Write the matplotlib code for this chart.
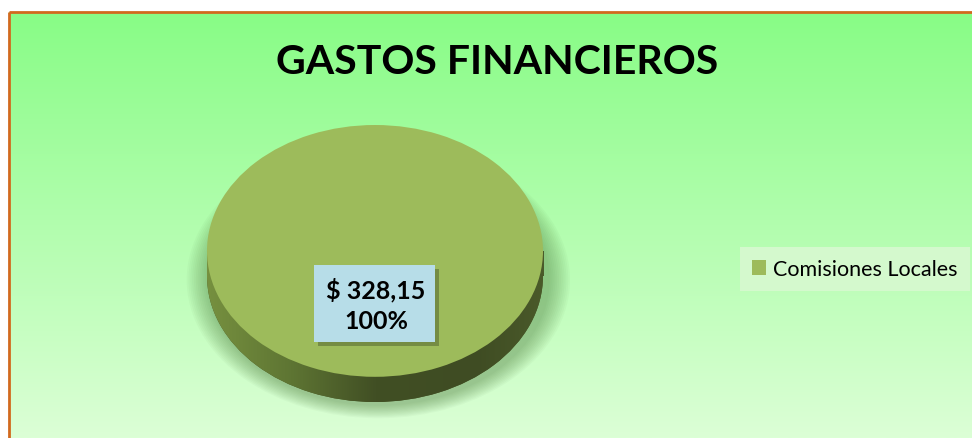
import numpy as np
import matplotlib
matplotlib.use('Agg')
import matplotlib.pyplot as plt
from matplotlib.patches import Rectangle, Ellipse
from matplotlib.colors import LinearSegmentedColormap

plt.rcParams['font.family'] = ['Lato', 'DejaVu Sans']

title = 'GASTOS FINANCIEROS'
categories = ['Comisiones Locales']
values = [328.15]

W, H = 972, 439
fig = plt.figure(figsize=(W / 100, H / 100), dpi=100)
fig.patch.set_facecolor('white')

# background panel with vertical gradient, pixel coords
bg = fig.add_axes([0, 0, 1, 1])
bg.set_xlim(0, W)
bg.set_ylim(H, 0)
bg.axis('off')
top_c = np.array([0x88, 0xFC, 0x86]) / 255
bot_c = np.array([0xDC, 0xFF, 0xD6]) / 255
t = np.linspace(0, 1, 256)[:, None]
grad = (top_c * (1 - t) + bot_c * t)[:, None, :]
bg.imshow(grad, extent=(9, W, H, 13), aspect='auto', zorder=0)
bg.plot([9, 9], [H, 13], color='#D2691E', lw=2, zorder=2, solid_capstyle='butt')
bg.plot([9, W], [13, 13], color='#D2691E', lw=2, zorder=2, solid_capstyle='butt')
bg.text(497, 63, title, ha='center', va='center', fontsize=29.5, fontweight='bold', color='black')

# pie axes: top face ellipse + side of depth d
d = 0.2
ax = fig.add_axes([207 / W, (H - 403) / H, 336 / W, 277 / H])
ax.set_facecolor('none')

# soft shadow under the pie
for k in range(12):
    ax.add_patch(Ellipse((0.02, -d - 0.03), 2.04 + k * 0.022, 2.0 + k * 0.018,
                         color='#3d6a2a', alpha=0.035, lw=0, zorder=0, clip_on=False))

bottom, _ = ax.pie(values, colors=['#4a5a28'], center=(0, -d), startangle=90,
                   counterclock=False, wedgeprops=dict(lw=0))
for w in bottom:
    w.set_zorder(1)
side_rect = Rectangle((-1, -d), 2, d, color='#4a5a28', lw=0, zorder=1)
ax.add_patch(side_rect)

side_cmap = LinearSegmentedColormap.from_list(
    'side', [(0, '#76903f'), (0.25, '#5e7533'), (0.5, '#414f24'), (0.8, '#3f4c23'), (1, '#4a5a2a')])
xs = np.linspace(0, 1, 256)[None, :]
for clip in [bottom[0], side_rect]:
    im = ax.imshow(xs, cmap=side_cmap, extent=(-1, 1, -1 - d, 0), aspect='auto', zorder=2)
    im.set_clip_path(clip)

wedges, _ = ax.pie(values, colors=['#9dbb5b'], startangle=90, counterclock=False,
                   wedgeprops=dict(lw=0))
for w in wedges:
    w.set_zorder(3)

ax.set_xlim(-1, 1)
ax.set_ylim(-1 - d, 1)
ax.set_aspect('auto')
ax.axis('off')

leg = ax.legend(wedges, categories, loc='center left', bbox_to_anchor=(740 / W, 1 - 270 / H),
                bbox_transform=fig.transFigure, fontsize=15.5, frameon=True, fancybox=False,
                handlelength=0.65, handleheight=0.65, handletextpad=0.35, borderpad=0.55,
                borderaxespad=0)
leg.get_frame().set_facecolor('#d4f9cd')
leg.get_frame().set_edgecolor('none')
leg.get_frame().set_alpha(1)

# data label box on top
ov = fig.add_axes([0, 0, 1, 1], zorder=5)
ov.set_xlim(0, W)
ov.set_ylim(H, 0)
ov.axis('off')
ov.patch.set_alpha(0)
total = sum(values)
for v in values:
    lab = '$ ' + f'{v:.2f}'.replace('.', ',') + '\n' + f'{v / total:.0%}'
    ov.add_patch(Rectangle((318, 270), 121, 77, color='#000000', alpha=0.25, lw=0))
    ov.add_patch(Rectangle((314, 266), 121, 77, color='#b7dde8', lw=0))
    ov.text(376, 305, lab, ha='center', va='center', fontsize=18, fontweight='bold',
            linespacing=1.4)

fig.savefig('out.png', dpi=100)
